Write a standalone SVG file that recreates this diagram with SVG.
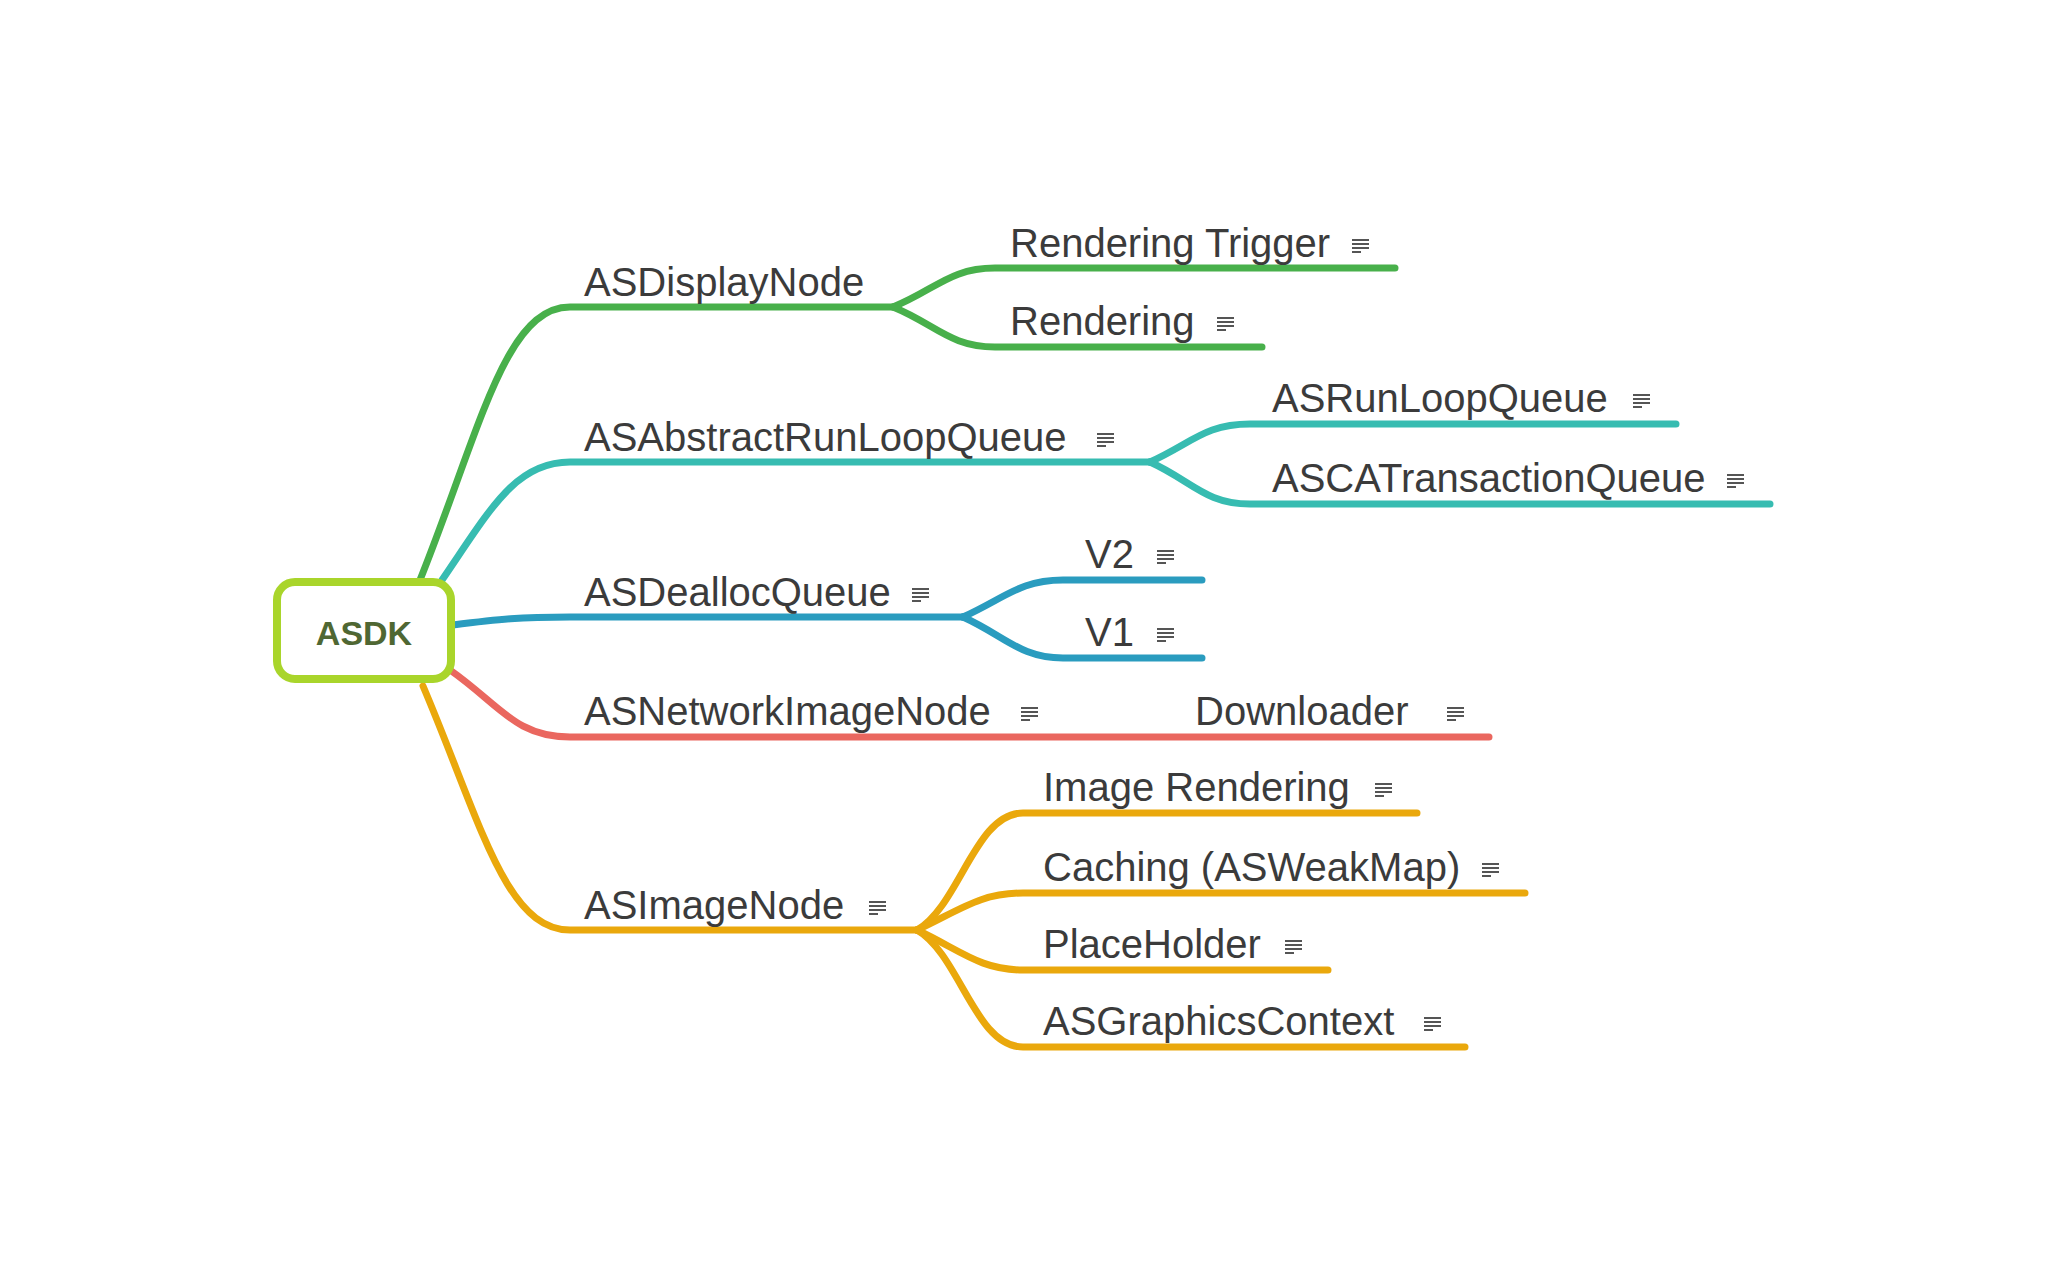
<svg xmlns="http://www.w3.org/2000/svg" xmlns:xlink="http://www.w3.org/1999/xlink" width="2048" height="1266" viewBox="0 0 2048 1266">
<style>
.t{font-family:"Liberation Sans",Arial,sans-serif;font-size:40px;fill:#3b3b3b}
.c{fill:none;stroke-width:7;stroke-linecap:round;stroke-linejoin:round}
.g{stroke:#48b04b}.tl{stroke:#37bcb1}.b{stroke:#2a9cbf}.r{stroke:#ea675f}.o{stroke:#eaa80c}
.root{fill:#fff;stroke:#a9d52b;stroke-width:8}
.rt{font-family:"Liberation Sans",Arial,sans-serif;font-size:34px;font-weight:bold;fill:#4f6733}
</style>
<defs>
<symbol id="note" viewBox="0 0 18 14" width="18" height="14">
<rect x="0" y="0" width="17" height="2" fill="#555"/>
<rect x="0" y="4" width="17" height="2" fill="#555"/>
<rect x="0" y="8" width="17" height="2" fill="#555"/>
<rect x="0" y="12" width="9" height="2" fill="#555"/>
</symbol>
</defs>
<rect width="2048" height="1266" fill="#fff"/>
<g id="connectors">
<path class="c g" d="M420,580 C480,430 505,307 570,307 L893,307"/>
<path class="c g" d="M893,307 C935,290 950,268 995,268 L1395,268"/>
<path class="c g" d="M893,307 C935,324 950,347 995,347 L1262,347"/>
<path class="c tl" d="M442,580 C490,510 515,462 570,462 L1150,462"/>
<path class="c tl" d="M1150,462 C1192,443 1205,424 1250,424 L1676,424"/>
<path class="c tl" d="M1150,462 C1192,481 1205,504 1250,504 L1770,504"/>
<path class="c b" d="M453,625 C500,619 520,617 570,617 L963,617"/>
<path class="c b" d="M963,617 C1005,598 1020,580 1063,580 L1202,580"/>
<path class="c b" d="M963,617 C1005,636 1020,658 1063,658 L1202,658"/>
<path class="c r" d="M450,670 C500,705 515,737 570,737 L1489,737"/>
<path class="c o" d="M423,686 C480,820 505,930 570,930 L917,930"/>
<path class="c o" d="M917,930 C960,905 975,813 1023,813 L1417,813"/>
<path class="c o" d="M917,930 C960,910 980,893 1023,893 L1525,893"/>
<path class="c o" d="M917,930 C960,950 980,970 1023,970 L1328,970"/>
<path class="c o" d="M917,930 C960,955 975,1047 1023,1047 L1465,1047"/>
</g>
<g id="root">
<rect class="root" x="277" y="582" width="174" height="97" rx="18"/>
<text class="rt" x="364" y="645" text-anchor="middle">ASDK</text>
</g>
<g id="asdisplaynode"><text class="t" x="584" y="296">ASDisplayNode</text></g>
<g id="rendering-trigger"><text class="t" x="1010" y="257">Rendering Trigger</text><use href="#note" x="1352" y="239"/></g>
<g id="rendering"><text class="t" x="1010" y="335">Rendering</text><use href="#note" x="1217" y="317"/></g>
<g id="asabstractrunloopqueue"><text class="t" x="584" y="451">ASAbstractRunLoopQueue</text><use href="#note" x="1097" y="433"/></g>
<g id="asrunloopqueue"><text class="t" x="1272" y="412">ASRunLoopQueue</text><use href="#note" x="1633" y="394"/></g>
<g id="ascatransactionqueue"><text class="t" x="1272" y="492">ASCATransactionQueue</text><use href="#note" x="1727" y="474"/></g>
<g id="asdeallocqueue"><text class="t" x="584" y="606">ASDeallocQueue</text><use href="#note" x="912" y="588"/></g>
<g id="v2"><text class="t" x="1085" y="568">V2</text><use href="#note" x="1157" y="550"/></g>
<g id="v1"><text class="t" x="1085" y="646">V1</text><use href="#note" x="1157" y="628"/></g>
<g id="asnetworkimagenode"><text class="t" x="584" y="725">ASNetworkImageNode</text><use href="#note" x="1021" y="707"/></g>
<g id="downloader"><text class="t" x="1195" y="725">Downloader</text><use href="#note" x="1447" y="707"/></g>
<g id="asimagenode"><text class="t" x="584" y="919">ASImageNode</text><use href="#note" x="869" y="901"/></g>
<g id="image-rendering"><text class="t" x="1043" y="801">Image Rendering</text><use href="#note" x="1375" y="783"/></g>
<g id="caching"><text class="t" x="1043" y="881">Caching (ASWeakMap)</text><use href="#note" x="1482" y="863"/></g>
<g id="placeholder"><text class="t" x="1043" y="958">PlaceHolder</text><use href="#note" x="1285" y="940"/></g>
<g id="asgraphicscontext"><text class="t" x="1043" y="1035">ASGraphicsContext</text><use href="#note" x="1424" y="1017"/></g>
</svg>
